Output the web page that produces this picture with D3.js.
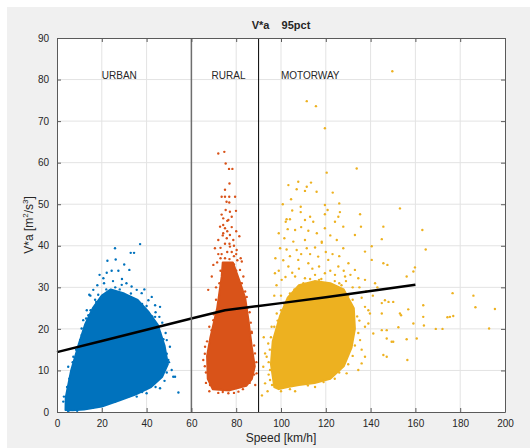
<!DOCTYPE html>
<html>
<head>
<meta charset="utf-8">
<script src="https://cdn.jsdelivr.net/npm/d3@7"></script>
<style>
  body { margin: 0; background: #fff; }
  text { font-family: "Liberation Sans", Arial, sans-serif; fill: #262626; }
</style>
</head>
<body>
<div id="chart"></div>
<script>
// tick values
const xTicks = [0, 20, 40, 60, 80, 100, 120, 140, 160, 180, 200];
const yTicks = [0, 10, 20, 30, 40, 50, 60, 70, 80, 90];

// region borders (km/h)
const regionBorders = [60, 90];
const regionNames = ["URBAN", "RURAL", "MOTORWAY"];
const regionLabelX = [20, 69, 100];

// fitted 95pct line
const fitSpeed = [0, 20, 40, 60, 75, 90, 100, 120, 140, 160];
const fitVal = [14.4, 17.1, 19.8, 22.5, 24.5, 25.5, 26.2, 27.6, 29.1, 30.6];

// dense cores of each cloud (outline) [speed, V*a]
const urbanCore = [[3.8,0.5],[3.9,3.5],[6.3,10],[9.8,16.5],[12.5,21],[16,25],[20,28],[24,29.5],[30,28.5],[36,27],[41,24],[45,21],[48,16],[49.5,11.5],[47,8.5],[42,6],[35,4.2],[28,2.8],[20,1.3],[12,0.6],[7,0.4]];
const ruralCore = [[74,36],[73.5,32.5],[71.5,25],[68.5,18],[67,13.5],[67.3,8],[69.5,5.5],[77,5.2],[84.5,6.3],[87,8],[88.3,11],[87,15.5],[85.5,22],[84,27.5],[81.5,31.5],[78.5,36]];
const motorwayCore = [[97,6],[95.5,11.5],[96.3,17],[99.5,23],[103,27.5],[108,30.5],[115,31.5],[122,31],[128,29.5],[132.5,25],[133,20],[131.5,15.5],[128,11],[122,8],[115,7],[108,6.5],[103,6],[99,5.5]];

// scattered points outside the dense cores
const urbanPts = [[25.9,39.4],[37.1,40.4],[32.9,38.3],[34.4,38.3],[22.5,36.4],[26.2,36.7],[32.3,34.2],[22.2,33.5],[24.4,34.0],[27.4,34.0],[20.7,32.2],[14.4,28.2],[14.9,28.0],[37.8,28.6],[40.8,26.9],[43.8,25.7],[42.3,27.7],[16.2,29.4],[28.9,30.6],[33.3,30.2],[35.6,29.4],[11.7,22.1],[13.3,24.5],[45.7,22.9],[54.2,4.7],[50.4,15.7],[51.2,10.1],[52.7,8.5],[49,17.3],[49.7,12.5],[46,25.3],[43.8,22.9],[2.8,2.5],[3.1,3.7],[5.0,10.9],[7.3,13.3],[10.3,17.3],[11,20.1],[14,23.3],[18.4,28.2],[51.9,8.5],[46,5.7],[40,4.5],[35.6,3.7],[18,30.5],[21,31],[25,31.5],[29,32],[31,31],[39,29.5],[44,24],[47,21.5],[48.5,19],[17,27],[19,33],[30,35.5],
  [4.5,6],[5.5,8],[7,12],[8.5,15],[11,18.5],[13,22.5],[15,24.5],[17.5,26.5],[22,29.5],[26,30],[28,29.5],[33,28.5],[38,26],[40,25.5],[42.5,23],[46,19],[47.5,17.5],[49,14],[50,12],[49,9.5],[48,7.5],[44,6],[38,4.8],[32,3.8],[26,2.5],[16,1],[9,0.3],[5,0.2]];
const ruralPts = [[72.0,62.2],[74.7,62.6],[75.3,59.8],[76.8,58.5],[78.3,58.5],[73.5,51.8],[75,51.8],[76.9,51.8],[79.5,51.8],[75.7,50.6],[76.9,50.4],[75.3,48.6],[77.2,48.2],[79.9,48.4],[74.2,46.6],[76.5,46.2],[72.8,44.6],[74.2,45],[75,44.2],[74.2,43],[77.2,42.6],[72,41.4],[75.8,41.8],[78.7,41.4],[81.4,42.3],[70.5,39.4],[77.2,39.8],[80.2,39.0],[69.8,35.4],[82.5,36.2],[81.7,34.2],[69.1,32.6],[83.2,32.6],[67.5,29.4],[84.7,27.7],[65.3,12.5],[66.1,15.7],[89.1,9.3],[88.4,14.1],[76.5,4.5],[68.3,6.5],[86.9,19.3],[69.8,22.1],[69,19.7],[72,38],[73,37],[76,38.5],[79,37.5],[80.5,36.5],[71,30],[72.5,28],[86,24],[86.5,17],[66.5,9.5],[88.5,6.5],[74,4.8],[81,4.9],
  [73,34],[72.5,31],[71,27],[70,23.5],[68,20.5],[67,17],[66,14],[66,11],[66.5,7],[68,5],[72,4.6],[79,4.6],[83,5.5],[86,7],[88,9],[89,12],[88,16],[87,19],[86.5,21.5],[85,25],[84,29],[82.5,31],[80,34],[79,35.5],[75,37],[77,36.8],
  [73,39.5],[75,40.5],[77,40.5],[79,40],[74,42.5],[76,43.5],[78,44.5],[73.5,38],[78,38.5],[80,38],[82,37],[71.5,36],[76,46],[78,47],[73.5,47.5],[80,43.5],[75,53.5],[77,55]];
const motorwayPts = [[149.7,82],[111.5,74.8],[115.6,73.6],[119.6,68.3],[133.8,58.6],[120.4,57.6],
  [103.3,54.6],[107.7,55.4],[111.5,54.2],[113.4,55.2],[107,53.6],[110.7,53.2],[115.9,53],[123.1,52.8],
  [104.5,51.2],[100.8,50.0],[108.8,49.4],[108.8,48.1],[119.6,49.8],[126,50.2],[120.8,48.6],[119.6,47.6],[126.3,48.1],[125.6,47.0],[135.3,47.6],[153.1,49.0],
  [102.5,46.4],[104,46.4],[102.1,45.8],[110.7,46.2],[114.4,45.8],[124.1,45.8],[135.7,44.6],[145.7,44.6],[163.1,43.8],
  [106.3,43.8],[112.2,43.6],[119.6,44.2],[127.8,44.6],[145,41.6],
  [101.5,41.8],[105.5,41.0],[110.7,41.4],[118.2,41.0],[124.9,41.4],[133,42.6],
  [99.6,39.4],[102.5,39.1],[107,39],[111.5,39.4],[115.2,39.6],[118.2,40.7],[127.8,39.4],[137.5,38.6],[140.5,39.9],[164.6,39.1],
  [97.3,33.4],[103.3,35],[107.7,36.6],[112.2,35.8],[116.6,37.4],[121.1,36.6],[125.6,35],[130.1,35.8],[133,34.2],[140.5,36.6],[145.7,35.8],[147.5,35.4],
  [100.3,31.8],[106.3,32.6],[110.7,32.2],[115.2,33],[119.6,33.4],[124.1,33],[128.6,32.6],[134.5,32.2],[137.5,31.8],[142,31],
  [159.8,34.8],[159.1,33.8],[156.1,32.6],
  [176.6,28.6],[185.9,28.0],[186.8,25.2],[195.5,24.8],[174.3,22.8],[175.4,22.9],[176.9,23.1],[169.1,20.0],[172.1,20.0],[192.9,20.1],
  [163.5,25.7],[163.5,22.9],[163.8,20.8],[156.8,24.7],[159.1,21.3],[153.6,23.3],[160.6,17.7],[152.4,20.4],
  [156.4,12.5],[145.7,13.7],[147.2,13.3],[149.4,16.9],[147.2,19.7],[145,23.7],[146.4,26.9],[150.1,26.5],[148,26.5],
  [139.7,23.7],[137.5,20.5],[135.3,17.3],[141.2,18.9],[139,24.5],[137.5,25.3],[139,21.3],[137.5,13.3],[136,11.7],[134.5,10.1],[129.3,9.3],[145,26.2],[145,19.7],[147.2,17.7],[150.1,16.9],[156.1,17.5],[153.1,23.7],
  [92.9,6.9],[97.3,6.5],[95.1,10.1],[101.8,7.3],[105.5,6.9],[93.6,13.3],[94.3,16.5],[95.8,20.5],[98.1,23.7],[92.3,18],[92.9,14.1],[92.1,10.9],[95.1,7.7],[106.3,5],[115.2,6],[91.5,4],[94,5],
  [96,6.5],[94.5,9],[94.5,12],[95,15],[95.5,18],[97,20.5],[98.5,22],[100,24.5],[101.5,26],[104,28.5],[106,29.5],[110,31],[113,32],[118,32],[124,31.5],[127,30.5],[130,28],[132,27],[134,23],[134.5,19],[133,16],[132,13.5],[130,11.5],[126,9.5],[124,8],[119,7.2],[112,6.4],[104,5.5],[100,5],[136,15],[135,22],
  [99,34],[101,36.5],[104,37.5],[105,33.5],[108,34.5],[109,38],[113,38],[114,34.5],[117,35],[120,38.5],[122,34],[123,38],[126,37.5],[128,34],[131,33],[98,30.5],[102,32.5],[111,30.8],[117,31.8],[126,31],[132,30],[129,31.5],[135,30],[138,29],[100,28],[99,43],[103,44],[109,44.5],[116,43],[122,42.5],[113,47],[105,48.5],[97.5,37],[97,28],[141,28],[136,27.5],[143,30]];

const groups = [
  { core: urbanCore, pts: urbanPts, color: "#0072bd" },
  { core: ruralCore, pts: ruralPts, color: "#d95319" },
  { core: motorwayCore, pts: motorwayPts, color: "#edb120" }
];

const width = 530;
const height = 448;
const margin = { top: 38, right: 25, bottom: 36, left: 57 };

const svg = d3.select("#chart").append("svg")
  .attr("width", width)
  .attr("height", height);

// figure background
svg.append("rect")
  .attr("x", 7).attr("y", 7)
  .attr("width", width - 7).attr("height", height - 7)
  .attr("fill", "#f0f0f0");

const x = d3.scaleLinear().domain([0, 200]).range([margin.left, width - margin.right]);
const y = d3.scaleLinear().domain([0, 90]).range([height - margin.bottom, margin.top]);

// axes background
svg.append("rect")
  .attr("x", x(0)).attr("y", y(90))
  .attr("width", x(200) - x(0)).attr("height", y(0) - y(90))
  .attr("fill", "#fff");

// grid
svg.append("g").selectAll("line")
  .data(xTicks.slice(1, -1))
  .join("line")
  .attr("x1", d => x(d)).attr("x2", d => x(d))
  .attr("y1", y(0)).attr("y2", y(90))
  .attr("stroke", "#e3e3e3");
svg.append("g").selectAll("line")
  .data(yTicks.slice(1, -1))
  .join("line")
  .attr("x1", x(0)).attr("x2", x(200))
  .attr("y1", d => y(d)).attr("y2", d => y(d))
  .attr("stroke", "#e3e3e3");

// clouds
const area = d3.line().x(d => x(d[0])).y(d => y(d[1])).curve(d3.curveLinearClosed);
groups.forEach(g => {
  svg.append("path")
    .attr("d", area(g.core))
    .attr("fill", g.color)
    .attr("stroke", g.color)
    .attr("stroke-width", 2)
    .attr("stroke-linejoin", "round");
  svg.append("g").selectAll("circle")
    .data(g.pts)
    .join("circle")
    .attr("cx", d => x(d[0]))
    .attr("cy", d => y(d[1]))
    .attr("r", 1.2)
    .attr("fill", g.color);
});

// fitted line
svg.append("path")
  .datum(fitSpeed.map((s, i) => [s, fitVal[i]]))
  .attr("d", d3.line().x(d => x(d[0])).y(d => y(d[1])))
  .attr("fill", "none")
  .attr("stroke", "#000")
  .attr("stroke-width", 2.5);

// region borders
svg.append("g").selectAll("line")
  .data(regionBorders)
  .join("line")
  .attr("x1", d => x(d)).attr("x2", d => x(d))
  .attr("y1", y(0)).attr("y2", y(90))
  .attr("stroke", (d, i) => i === 0 ? "#6e6e6e" : "#000")
  .attr("stroke-width", (d, i) => i === 0 ? 1.5 : 1);

// region labels
svg.append("g").selectAll("text")
  .data(regionNames)
  .join("text")
  .attr("x", (d, i) => x(regionLabelX[i]))
  .attr("y", y(81))
  .attr("dy", "0.35em")
  .attr("font-size", 10)
  .text(d => d);

// axes box and ticks
const axisColor = "#5a5a5a";
const xAxis = svg.append("g")
  .attr("transform", `translate(0,${y(0)})`)
  .call(d3.axisBottom(x).tickValues(xTicks).tickSizeInner(-4).tickSizeOuter(0).tickPadding(8));
const xTop = svg.append("g")
  .attr("transform", `translate(0,${y(90)})`)
  .call(d3.axisTop(x).tickValues(xTicks).tickSizeInner(-4).tickSizeOuter(0).tickFormat(""));
const yAxis = svg.append("g")
  .attr("transform", `translate(${x(0)},0)`)
  .call(d3.axisLeft(y).tickValues(yTicks).tickSizeInner(-4).tickSizeOuter(0).tickPadding(8));
const yRight = svg.append("g")
  .attr("transform", `translate(${x(200)},0)`)
  .call(d3.axisRight(y).tickValues(yTicks).tickSizeInner(-4).tickSizeOuter(0).tickFormat(""));
[xAxis, xTop, yAxis, yRight].forEach(a => {
  a.select(".domain").attr("stroke", axisColor);
  a.selectAll(".tick line").attr("stroke", axisColor);
  a.selectAll(".tick text")
    .attr("font-size", 10)
    .attr("font-family", "Liberation Sans, Arial, sans-serif")
    .attr("fill", "#303030");
});

// title
svg.append("text")
  .attr("x", (x(0) + x(200)) / 2)
  .attr("y", 29)
  .attr("text-anchor", "middle")
  .attr("font-size", 11)
  .attr("font-weight", "bold")
  .style("white-space", "pre")
  .text("V*a    95pct");

// x label
svg.append("text")
  .attr("x", (x(0) + x(200)) / 2)
  .attr("y", 442)
  .attr("text-anchor", "middle")
  .attr("font-size", 12)
  .text("Speed [km/h]");

// y label
const yl = svg.append("text")
  .attr("transform", `translate(33,${(y(0) + y(90)) / 2}) rotate(-90)`)
  .attr("text-anchor", "middle")
  .attr("font-size", 12);
yl.append("tspan").text("V*a [m");
yl.append("tspan").attr("font-size", 8).attr("dy", -5).text("2");
yl.append("tspan").attr("dy", 5).text("/s");
yl.append("tspan").attr("font-size", 8).attr("dy", -5).text("3");
yl.append("tspan").attr("dy", 5).text("]");
</script>
</body>
</html>
